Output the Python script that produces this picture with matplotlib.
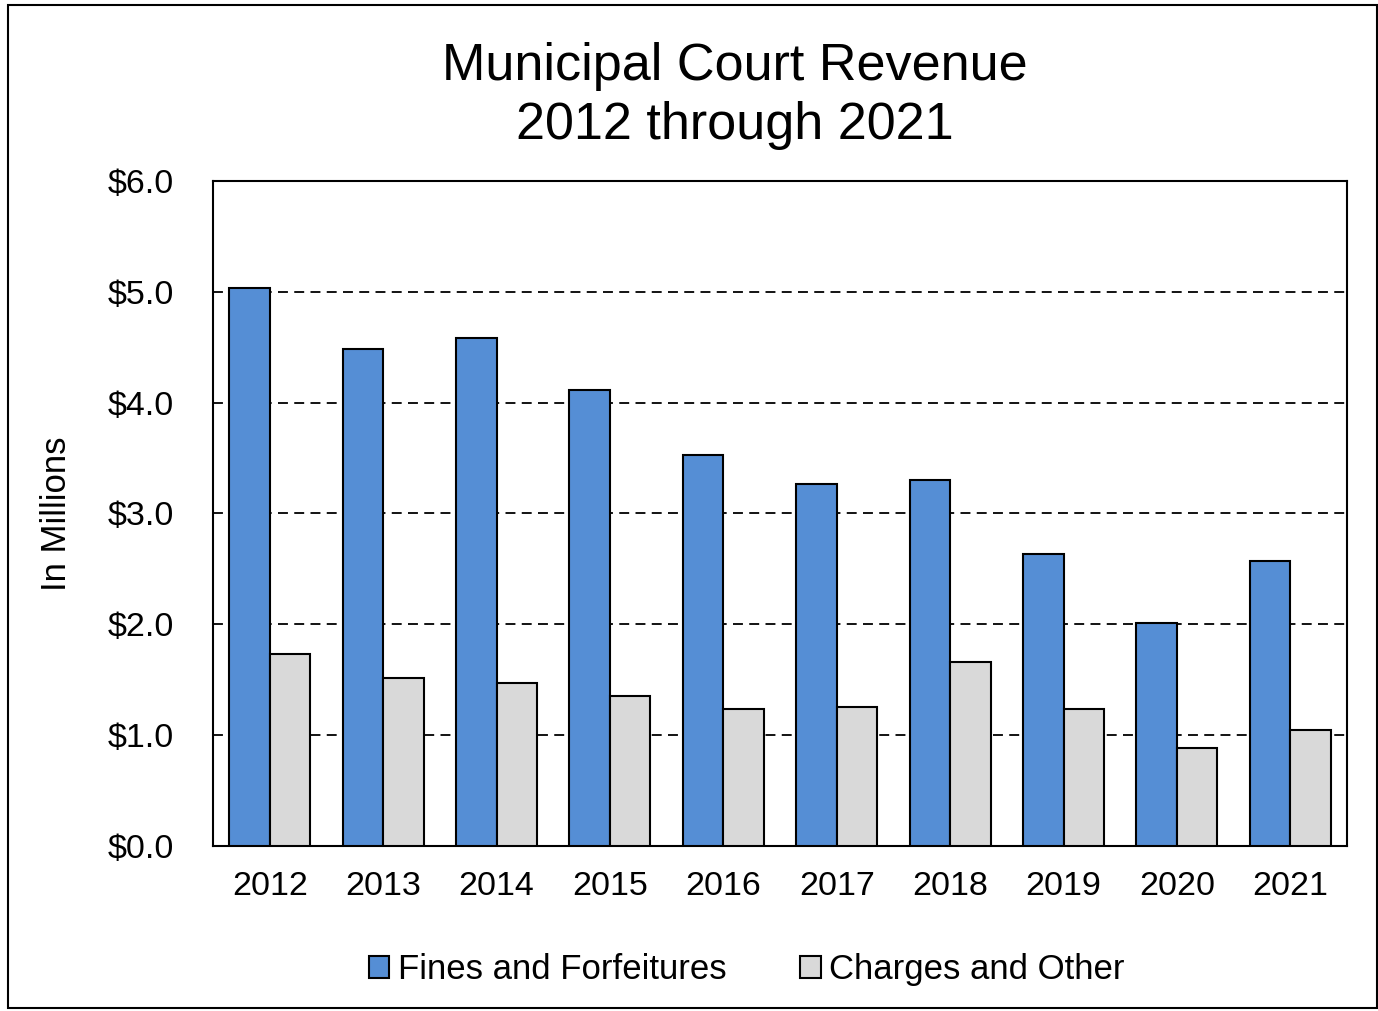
import numpy as np
import matplotlib.pyplot as plt
from matplotlib.patches import Rectangle

plt.rcParams['font.family'] = ['Liberation Sans', 'DejaVu Sans']

anni = ["2012", "2013", "2014", "2015", "2016", "2017", "2018", "2019", "2020", "2021"]
multe = [5.03, 4.48, 4.58, 4.11, 3.53, 3.27, 3.30, 2.63, 2.01, 2.57]
altro = [1.73, 1.52, 1.47, 1.35, 1.24, 1.25, 1.66, 1.24, 0.88, 1.05]
tick_y = [0, 1, 2, 3, 4, 5, 6]
tick_lab = ["$0.0", "$1.0", "$2.0", "$3.0", "$4.0", "$5.0", "$6.0"]

fig = plt.figure(figsize=(13.78, 10.11), dpi=100)
ax = fig.add_axes([0.1546, 0.1632, 0.8229, 0.6578])

# bordo esterno
fig.patches.append(Rectangle((0.006, 0.003), 0.993, 0.992, transform=fig.transFigure,
                             fill=False, edgecolor="black", linewidth=1.5))

x = np.arange(len(anni))
w = 0.357
ax.bar(x - w/2, multe, w, color="#558ED5", edgecolor="black", linewidth=1.5,
       label="Fines and Forfeitures", zorder=3)
ax.bar(x + w/2, altro, w, color="#D9D9D9", edgecolor="black", linewidth=1.5,
       label="Charges and Other", zorder=3)

for yy in [1, 2, 3, 4, 5]:
    ax.axhline(yy, color="black", ls=(0, (5.5, 3.5)), linewidth=1.3, zorder=1)

ax.set_xlim(-0.5, len(anni) - 0.5)
ax.set_ylim(0, 6)
ax.set_xticks(x)
ax.set_xticklabels(anni, fontsize=24.5)
ax.set_yticks(tick_y)
ax.set_yticklabels(tick_lab, fontsize=24.5)
ax.tick_params(length=0)
ax.tick_params(axis="x", pad=18)
ax.tick_params(axis="y", pad=28)
for s in ax.spines.values():
    s.set_linewidth(1.5)

ax.set_ylabel("In Millions", fontsize=25, labelpad=25)
fig.text(0.533, 0.905, "Municipal Court Revenue\n2012 through 2021", ha="center", va="center",
         fontsize=37.5, linespacing=1.25)

fig.legend(loc="center", bbox_to_anchor=(0.542, 0.041), ncol=2, frameon=False, fontsize=25,
           handlelength=0.58, handleheight=0.58, handletextpad=0.25, columnspacing=2.13)

plt.savefig("out.png", dpi=100)
